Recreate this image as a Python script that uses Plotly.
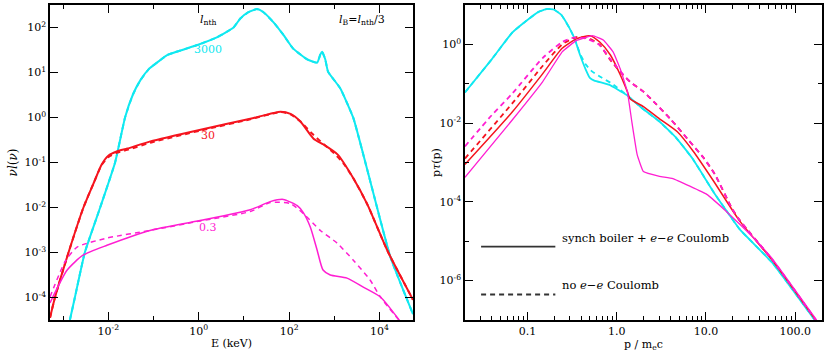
import numpy as np
import plotly.graph_objects as go

# ---- left panel: nu l(nu) vs E (keV); values stored as log10 ----
cyan_logE = [-2.85, -2.74, -2.52, -2.18, -1.85, -1.63, -1.46, -1.29, -1.10, -0.91, -0.69, -0.03,
             0.40, 0.77, 0.92, 1.10, 1.29, 1.42, 1.65, 1.87, 2.09, 2.40, 2.62, 2.69, 2.73, 2.80,
             2.86, 3.13, 3.42, 3.79, 4.24, 4.74]
cyan_logL = [-4.50, -4.00, -3.00, -2.00, -1.00, 0.00, 0.50, 0.83, 1.08, 1.23, 1.39, 1.61,
             1.78, 2.00, 2.20, 2.34, 2.41, 2.35, 2.12, 1.84, 1.53, 1.29, 1.22, 1.40, 1.46, 1.29,
             1.02, 0.65, -0.01, -1.40, -3.10, -4.37]

red_logE = [-3.29, -3.18, -2.88, -2.55, -2.30, -2.15, -2.00, -1.80, -1.58, -1.07, 0.04, 1.14,
            1.81, 2.03, 2.25, 2.54, 2.76, 3.07, 3.42, 3.73, 4.17, 4.74]
red_logL = [-4.45, -4.00, -3.00, -2.00, -1.40, -1.05, -0.85, -0.75, -0.69, -0.53, -0.27, -0.03,
            0.13, 0.08, -0.09, -0.47, -0.60, -0.82, -1.35, -1.93, -2.95, -4.05]
red_d_logE = [-3.29, -3.18, -2.88, -2.55, -2.30, -2.15, -2.00, -1.80, -1.58, -1.07, 0.04, 1.14,
              1.81, 2.03, 2.25, 2.50, 2.75, 3.00, 3.20, 3.42, 3.73, 4.17, 4.74]
red_d_logL = [-4.45, -4.00, -3.00, -2.00, -1.40, -1.06, -0.88, -0.78, -0.72, -0.56, -0.29, -0.04,
              0.12, 0.07, -0.09, -0.35, -0.58, -0.80, -1.02, -1.35, -1.93, -2.95, -4.05]

mag_logE = [-3.29, -2.91, -2.56, -2.03, -1.08, 0.03, 1.14, 1.58, 1.87, 2.18, 2.31, 2.47, 2.62,
            2.75, 2.91, 3.28, 3.64, 4.02, 4.47]
mag_logL = [-4.12, -3.39, -3.06, -2.84, -2.51, -2.29, -2.05, -1.87, -1.82, -1.96, -2.11, -2.44,
            -2.95, -3.39, -3.50, -3.57, -3.77, -3.99, -4.55]
mag_d_logE = [-3.29, -2.96, -2.69, -2.03, -1.08, 0.03, 1.14, 1.58, 2.02, 2.31, 2.69, 3.06, 3.42,
              3.79, 4.02, 4.47]
mag_d_logL = [-3.99, -3.21, -2.88, -2.68, -2.51, -2.30, -2.09, -1.89, -1.91, -2.13, -2.51, -2.79,
              -3.17, -3.61, -3.99, -4.55]

# ---- right panel: p tau(p) vs p / m_e c; log10 ----
cyan_logp = [-1.70, -1.40, -1.17, -1.00, -0.88, -0.78, -0.70, -0.62, -0.53, -0.47, -0.41, -0.35,
             -0.30, -0.25, -0.08, 0.11, 0.29, 0.48, 0.67, 0.85, 1.10, 1.38, 1.75, 2.22]
cyan_logT = [-1.22, -0.38, 0.30, 0.62, 0.82, 0.90, 0.88, 0.75, 0.42, 0.14, -0.27, -0.62,
             -0.85, -0.92, -1.03, -1.28, -1.63, -1.96, -2.38, -2.90, -3.80, -4.70, -5.56, -7.00]
cyan_d_logp = [-1.70, -1.40, -1.17, -1.00, -0.88, -0.78, -0.70, -0.62, -0.53, -0.47, -0.41, -0.35,
               -0.28, -0.18, -0.05, 0.11, 0.29, 0.48, 0.67, 0.85, 1.10, 1.38, 1.75, 2.22]
cyan_d_logT = [-1.22, -0.38, 0.30, 0.62, 0.82, 0.90, 0.88, 0.75, 0.42, 0.14, -0.24, -0.50,
               -0.68, -0.83, -1.00, -1.28, -1.63, -1.96, -2.38, -2.90, -3.80, -4.70, -5.56, -7.00]

red_logp = [-1.70, -1.17, -0.83, -0.61, -0.45, -0.30, -0.19, -0.07, 0.04, 0.12, 0.15, 0.30, 0.48,
            0.68, 0.86, 1.08, 1.38, 1.75, 2.23]
red_logT = [-3.05, -1.72, -0.75, -0.10, 0.14, 0.22, 0.06, -0.27, -0.77, -1.20, -1.38, -1.58,
            -1.89, -2.22, -2.72, -3.45, -4.49, -5.50, -7.00]
red_d_logp = [-1.70, -1.17, -0.83, -0.61, -0.44, -0.30, -0.19, -0.08, 0.04, 0.15, 0.30, 0.44,
              0.60, 0.79, 0.98, 1.10, 1.30, 1.38, 1.75, 2.23]
red_d_logT = [-2.90, -1.50, -0.55, 0.00, 0.19, 0.14, -0.01, -0.37, -0.70, -0.95, -1.20, -1.51,
              -1.89, -2.39, -2.90, -3.30, -4.20, -4.47, -5.49, -7.00]

mag_logp = [-1.70, -1.17, -0.83, -0.61, -0.45, -0.27, -0.15, -0.04, 0.04, 0.12, 0.17, 0.23, 0.30,
            0.48, 0.63, 1.01, 1.19, 1.38, 1.57, 1.75, 2.24]
mag_logT = [-3.38, -1.92, -0.95, -0.19, 0.10, 0.22, 0.11, -0.19, -0.62, -1.20, -1.96, -2.80,
            -3.23, -3.35, -3.41, -3.81, -4.16, -4.57, -5.00, -5.46, -7.00]
mag_d_logp = [-1.70, -1.40, -1.17, -0.83, -0.61, -0.48, -0.35, -0.20, -0.08, 0.04, 0.15, 0.30,
              0.44, 0.60, 0.79, 0.98, 1.10, 1.30, 1.38, 1.75, 2.23]
mag_d_logT = [-2.59, -1.80, -1.25, -0.35, 0.06, 0.17, 0.15, 0.00, -0.35, -0.68, -0.95, -1.20,
              -1.51, -1.89, -2.39, -2.90, -3.30, -4.20, -4.47, -5.49, -7.00]

CYAN = "#10e8f0"
RED = "#f5141e"
MAG = "#ff1ed2"
FONT = "DejaVu Serif"
DASH = "5px,4px"


def p10(a):
    return 10 ** np.asarray(a)


fig = go.Figure()


def add(xs, ys, color, width, dash, xa, ya, smooth=0.6):
    fig.add_trace(go.Scatter(x=p10(xs), y=p10(ys), mode="lines",
                             line=dict(color=color, width=width, dash=dash,
                                       shape="spline", smoothing=smooth),
                             xaxis=xa, yaxis=ya, showlegend=False, hoverinfo="skip"))


# left panel
add(cyan_logE, cyan_logL, CYAN, 2, "solid", "x", "y", 0.4)
add(cyan_logE, cyan_logL, CYAN, 2, DASH, "x", "y", 0.4)
add(red_d_logE, red_d_logL, RED, 2, DASH, "x", "y")
add(red_logE, red_logL, RED, 2, "solid", "x", "y")
add(mag_d_logE, mag_d_logL, MAG, 1.5, DASH, "x", "y")
add(mag_logE, mag_logL, MAG, 1.5, "solid", "x", "y")

# right panel
add(cyan_d_logp, cyan_d_logT, CYAN, 1.8, DASH, "x2", "y2", 0.3)
add(cyan_logp, cyan_logT, CYAN, 1.8, "solid", "x2", "y2", 0.3)
add(red_d_logp, red_d_logT, RED, 1.8, DASH, "x2", "y2")
add(red_logp, red_logT, RED, 1.5, "solid", "x2", "y2")
add(mag_d_logp, mag_d_logT, MAG, 1.8, DASH, "x2", "y2")
add(mag_logp, mag_logT, MAG, 1.3, "solid", "x2", "y2", 0.3)

axis_common = dict(type="log", showgrid=False, zeroline=False, showline=True,
                   linecolor="black", linewidth=1.5, mirror="allticks", ticks="inside",
                   ticklen=8, tickwidth=1.3, tickcolor="black",
                   tickfont=dict(family=FONT, size=11, color="black"))


def sup(e):
    return "10<sup>%d</sup>" % e


minor_style = dict(ticks="inside", ticklen=4, tickwidth=1.2, tickcolor="black")
right_xminor = [m * 10.0 ** k for k in range(-2, 3) for m in range(2, 10)
                if 0.02 <= m * 10.0 ** k <= 200]

fig.update_layout(
    width=830, height=356, plot_bgcolor="white", paper_bgcolor="white",
    margin=dict(l=50, r=8, t=3, b=36),
    font=dict(family=FONT, color="black", size=11),
    xaxis=dict(axis_common, domain=[0, 0.4702], range=[-3.29, 4.74],
               tickvals=[1e-2, 1, 1e2, 1e4], ticktext=[sup(e) for e in (-2, 0, 2, 4)],
               minor=dict(minor_style, tickvals=[1e-3, 1e-1, 10, 1e3]),
               title=dict(text="E (keV)", standoff=2, font=dict(family=FONT, size=11))),
    yaxis=dict(axis_common, range=[-4.5, 2.5],
               tickvals=[10.0 ** e for e in range(-4, 3)],
               ticktext=[sup(e) for e in range(-4, 3)],
               title=dict(text="<i>ν</i><i>l</i>(<i>ν</i>)", standoff=4,
                          font=dict(family=FONT, size=12))),
    xaxis2=dict(axis_common, domain=[0.5376, 1], range=[np.log10(0.02), np.log10(200)],
                anchor="y2",
                tickvals=[0.1, 1, 10, 100], ticktext=["0.1", "1.0", "10.0", "100.0"],
                minor=dict(minor_style, tickvals=right_xminor),
                title=dict(text="p / m<sub>e</sub>c", standoff=2, font=dict(family=FONT, size=11))),
    yaxis2=dict(axis_common, anchor="x2", range=[-7, 1],
                tickvals=[1e-6, 1e-4, 1e-2, 1], ticktext=[sup(e) for e in (-6, -4, -2, 0)],
                minor=dict(minor_style, tickvals=[1e-7, 1e-5, 1e-3, 1e-1, 10])),
)

# right-panel y title (placed beside its tick labels)
fig.add_annotation(xref="x2 domain", yref="y2 domain", x=-0.104, y=0.5, textangle=-90,
                   text="p<i>τ</i>(p)", showarrow=False, font=dict(family=FONT, size=11))

# annotations (left panel)
notes = [
    (0.21, 2.17, "<i>l</i><sub>nth</sub>", "black"),
    (3.62, 2.17, "<i>l</i><sub>B</sub>=<i>l</i><sub>nth</sub>/3", "black"),
    (0.21, 1.51, "3000", CYAN),
    (0.21, -0.41, "30", RED),
    (0.21, -2.44, "0.3", MAG),
]
for x, y, t, c in notes:
    fig.add_annotation(x=x, y=y, xref="x", yref="y", text=t, showarrow=False,
                       font=dict(family=FONT, size=11, color=c))

# legend (right panel)
fig.add_shape(type="line", xref="x2 domain", yref="y2 domain", x0=0.045, x1=0.253,
              y0=0.233, y1=0.233, line=dict(color="#333333", width=1.8))
fig.add_shape(type="line", xref="x2 domain", yref="y2 domain", x0=0.045, x1=0.253,
              y0=0.081, y1=0.081, line=dict(color="#333333", width=1.8, dash=DASH))
fig.add_annotation(xref="x2 domain", yref="y2 domain", x=0.265, y=0.233, xanchor="left",
                   text="synch boiler + <i>e</i>−<i>e</i> Coulomb", showarrow=False,
                   font=dict(family=FONT, size=11.5))
fig.add_annotation(xref="x2 domain", yref="y2 domain", x=0.265, y=0.081, xanchor="left",
                   text="no <i>e</i>−<i>e</i> Coulomb", showarrow=False,
                   font=dict(family=FONT, size=11.5))

fig.write_html("out.html", config={"displayModeBar": False},
               post_script="document.body.style.margin='0';")
